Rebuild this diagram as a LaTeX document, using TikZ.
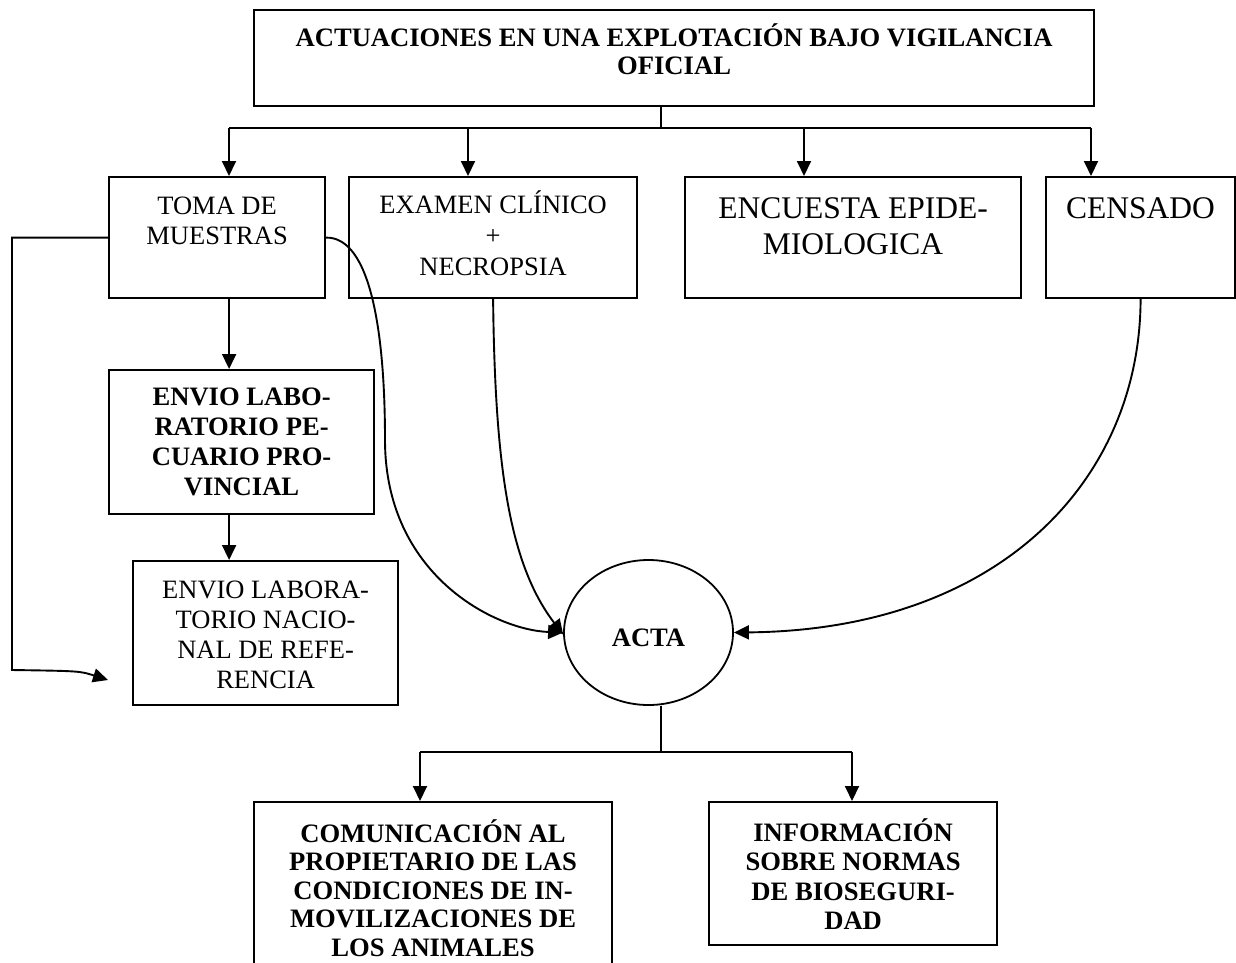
\documentclass[tikz,border=0pt]{standalone}
\usepackage{fontspec}
\setmainfont{Liberation Serif}
\usetikzlibrary{arrows.meta,shapes.geometric,calc}
\newcommand{\boxtext}[5]{\parbox[t][#2][t]{#1}{#4\centering\rule{0pt}{#3}#5}}
\tikzset{
  box/.style={draw=black, line width=2.2pt, rectangle, inner sep=0pt, anchor=north west},
  conn/.style={draw=black, line width=1.9pt},
  arr/.style={conn, -{Triangle[width=14pt,length=15pt]}},
}
\begin{document}
\begin{tikzpicture}[x=1pt,y=-1pt]
\useasboundingbox (0,0) rectangle (1236,962);
\fill[white] (0,0) rectangle (1236,962);

% boxes
\node[box] (title) at (253,9) {\boxtext{840pt}{96pt}{36pt}{\fontsize{26.6pt}{28pt}\selectfont\bfseries}{ACTUACIONES EN UNA EXPLOTACIÓN BAJO VIGILANCIA\\OFICIAL}};
\node[box] (toma) at (108,176) {\boxtext{216pt}{121pt}{37pt}{\fontsize{26.5pt}{30pt}\selectfont}{TOMA DE\\MUESTRAS}};
\node[box] (examen) at (348,176) {\boxtext{288pt}{121pt}{36pt}{\fontsize{26.5pt}{31pt}\selectfont}{EXAMEN CLÍNICO\\+\\NECROPSIA}};
\node[box] (encuesta) at (684,176) {\boxtext{336pt}{121pt}{41pt}{\fontsize{31.5pt}{36pt}\selectfont}{ENCUESTA EPIDE-\\MIOLOGICA}};
\node[box] (censado) at (1045,176) {\boxtext{189pt}{121pt}{41pt}{\fontsize{31.5pt}{36pt}\selectfont}{CENSADO}};
\node[box] (labprov) at (108,369) {\boxtext{265pt}{144pt}{35pt}{\fontsize{26.6pt}{30pt}\selectfont\bfseries}{ENVIO LABO-\\RATORIO PE-\\CUARIO PRO-\\VINCIAL}};
\node[box] (labnac) at (132,560) {\boxtext{265pt}{144pt}{37pt}{\fontsize{26.5pt}{30pt}\selectfont}{ENVIO LABORA-\\TORIO NACIO-\\NAL DE REFE-\\RENCIA}};
\node[draw=black, line width=1.8pt, ellipse, minimum width=169pt, minimum height=145pt, inner sep=0pt] (acta) at (648.5,632.5)
  {\fontsize{26.6pt}{30pt}\selectfont\bfseries\raisebox{-5pt}[\height][0pt]{ACTA}};
\node[box] (comun) at (253,801) {\boxtext{358pt}{175pt}{40pt}{\fontsize{26.6pt}{28.5pt}\selectfont\bfseries}{COMUNICACIÓN AL\\PROPIETARIO DE LAS\\CONDICIONES DE IN-\\MOVILIZACIONES DE\\LOS ANIMALES}};
\node[box] (info) at (708,801) {\boxtext{288pt}{143pt}{39pt}{\fontsize{26.6pt}{29.5pt}\selectfont\bfseries}{INFORMACIÓN\\SOBRE NORMAS\\DE BIOSEGURI-\\DAD}};

% top distribution bus
\coordinate (busL) at (229,128);
\coordinate (busM) at (661,128);
\coordinate (busE) at (468,128);
\coordinate (busQ) at (804,128);
\coordinate (busR) at (1091,128);
\draw[conn] (busM |- title.south) -- (busM);
\draw[conn] (busL) -- (busR);
\draw[arr] (busL) -- (busL |- toma.north);
\draw[arr] (busE) -- (busE |- examen.north);
\draw[arr] (busQ) -- (busQ |- encuesta.north);
\draw[arr] (busR) -- (busR |- censado.north);

% sample chain
\draw[arr] ([xshift=12pt]toma.south) -- ([xshift=12pt]toma.south |- labprov.north);
\draw[arr] ([xshift=-12.5pt]labprov.south) -- ([xshift=-12.5pt]labprov.south |- labnac.north);

% left return path
\coordinate (lc) at (12,670);
\coordinate (le) at (108,680);
\draw[arr] (toma.west) -| (lc) .. controls (80,671) .. (le);

% curves into ACTA
\coordinate (tm) at (385,440);
\draw[conn] (toma.east) .. controls (370,237) and (385,330) .. (tm);
\draw[arr] (tm) .. controls (385,575) and (495,630) .. (acta.west);
\draw[arr] (examen.south) .. controls (495,470) and (510,565) .. ([yshift=-2pt]acta.west);
\draw[arr] (censado.south) .. controls (1140,480) and (1000,630) .. (acta.east);

% bottom distribution bus
\coordinate (bL) at (420,752);
\coordinate (bM) at (661,752);
\coordinate (bR) at (852,752);
\draw[conn] (bM |- acta.south) -- (bM);
\draw[conn] (bL) -- (bR);
\draw[arr] (bL) -- (bL |- comun.north);
\draw[arr] (bR) -- (bR |- info.north);
\end{tikzpicture}
\end{document}
